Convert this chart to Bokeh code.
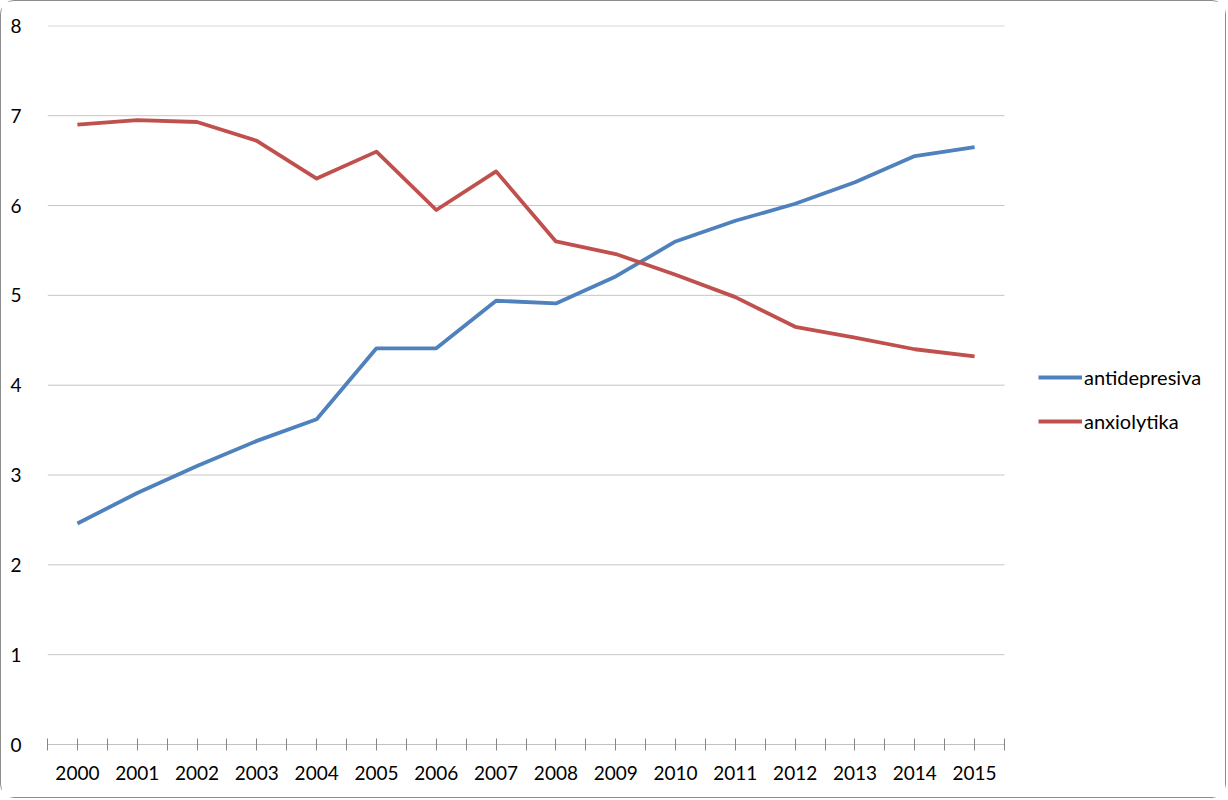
from bokeh.plotting import figure
from bokeh.models import Range1d, FixedTicker, Legend, LegendItem
from bokeh.embed import file_html
from bokeh.resources import INLINE

years = [str(y) for y in range(2000, 2016)]
antidepresiva = [2.46, 2.80, 3.10, 3.38, 3.62, 4.41, 4.41, 4.94,
                 4.91, 5.21, 5.60, 5.83, 6.02, 6.26, 6.55, 6.65]
anxiolytika = [6.90, 6.95, 6.93, 6.72, 6.30, 6.60, 5.95, 6.38,
               5.60, 5.46, 5.23, 4.98, 4.65, 4.53, 4.40, 4.32]
y_ticks = [0, 1, 2, 3, 4, 5, 6, 7, 8]

x = list(range(len(years)))
font = "Lato"

W, H = 1226, 798
left, top, bottom = 46, 24, 55
plot_w = 957  # width of the gridded area in px
n = len(years)
# frame spans the whole width so the legend can sit inside it on the right
x_end = -0.5 + n * (W - left) / plot_w

p = figure(width=W, height=H, output_backend="svg", toolbar_location=None,
           x_range=Range1d(-0.5, x_end), y_range=Range1d(0, 8.004),
           min_border_left=left, min_border_right=0, min_border_top=top, min_border_bottom=bottom)
p.styles = {"border": "1.5px solid #8c8c8c", "border-radius": "14px"}
p.outline_line_color = None
p.background_fill_color = "white"
p.xgrid.grid_line_color = None
p.ygrid.grid_line_color = None

# horizontal gridlines and the category axis line, only over the plotted area
p.segment(x0=[-0.5] * (len(y_ticks) - 1), x1=[n - 0.5] * (len(y_ticks) - 1),
          y0=y_ticks[1:], y1=y_ticks[1:], line_color="#c6c6c6", line_width=1)
p.segment(x0=[-0.5], x1=[n - 0.5], y0=[0], y1=[0], line_color="#868686", line_width=1.2)

blue = p.line(x, antidepresiva, line_color="#4f81bd", line_width=3.8, line_join="round")
red = p.line(x, anxiolytika, line_color="#c0504d", line_width=3.8, line_join="round")

# x axis: labels at category centres, ticks at centres and boundaries
p.xaxis.ticker = FixedTicker(ticks=x, minor_ticks=[i - 0.5 for i in range(n + 1)])
p.xaxis.major_label_overrides = {i: y for i, y in enumerate(years)}
p.xaxis.axis_line_color = None
p.xaxis.major_tick_line_color = "#868686"
p.xaxis.minor_tick_line_color = "#868686"
p.xaxis.major_tick_in = 6
p.xaxis.major_tick_out = 6
p.xaxis.minor_tick_in = 6
p.xaxis.minor_tick_out = 6
p.xaxis.major_label_standoff = 15
p.xaxis.major_label_text_font = font
p.xaxis.major_label_text_font_size = "19px"
p.xaxis.major_label_text_color = "#000000"

p.yaxis.ticker = FixedTicker(ticks=y_ticks)
p.yaxis.axis_line_color = None
p.yaxis.major_tick_line_color = None
p.yaxis.minor_tick_line_color = None
p.yaxis.major_label_standoff = 20
p.yaxis.major_label_text_font = font
p.yaxis.major_label_text_font_size = "19px"
p.yaxis.major_label_text_color = "#000000"

legend = Legend(items=[LegendItem(label="antidepresiva", renderers=[blue]),
                       LegendItem(label="anxiolytika", renderers=[red])],
                location=(991, 311), orientation="vertical")
legend.border_line_color = None
legend.background_fill_alpha = 0
legend.padding = 0
legend.margin = 0
legend.spacing = 20
legend.glyph_width = 44
legend.glyph_height = 20
legend.label_standoff = 2
legend.label_text_font = font
legend.label_text_font_size = "20px"
legend.label_text_color = "#000000"
p.add_layout(legend, "center")

open("out.html", "w").write(file_html(p, INLINE))
